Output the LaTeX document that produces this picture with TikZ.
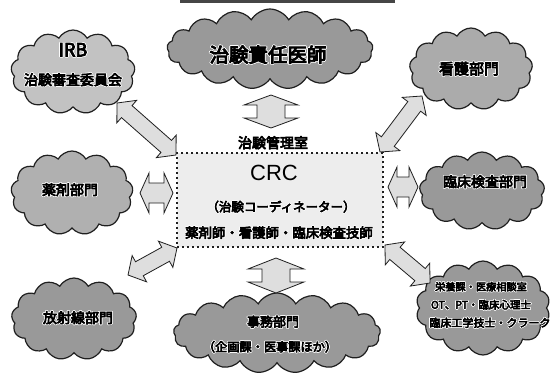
\documentclass[tikz,border=0pt]{standalone}
\usepackage{fontspec}
\setmainfont{Liberation Sans}
\newfontfamily\jpf{Noto Sans CJK JP}[AutoFakeBold=5]
\newcommand\jp{\jpf\bfseries}
\usepackage[copies]{contour}
\contourlength{0.6pt}
\usetikzlibrary{shapes.symbols,calc}
\definecolor{cloudlight}{gray}{0.76}
\definecolor{clouddark}{gray}{0.60}
\definecolor{arrowfill}{gray}{0.87}
\definecolor{boxfill}{gray}{0.93}
\definecolor{outl}{gray}{0.12}
\newcommand\myblockarrow[5]{%
\draw[barrow] (#1) -- ($(#1)!#3!(#2)!#4!90:(#2)$) -- ($(#1)!#3!(#2)!#5!90:(#2)$)
 -- ($(#2)!#3!(#1)!#5!-90:(#1)$) -- ($(#2)!#3!(#1)!#4!-90:(#1)$) -- (#2)
 -- ($(#2)!#3!(#1)!#4!90:(#1)$) -- ($(#2)!#3!(#1)!#5!90:(#1)$)
 -- ($(#1)!#3!(#2)!#5!-90:(#2)$) -- ($(#1)!#3!(#2)!#4!-90:(#2)$) -- cycle;}
\newcommand\ct[1]{\contour{white}{#1}}
\begin{document}
\begin{tikzpicture}[x=1pt,y=-1pt,
  cloudnode/.style={cloud, cloud puffs=13, cloud puff arc=120, cloud ignores aspect,
    draw=outl, line width=1.2pt, fill=clouddark, inner sep=0pt, align=center},
  widecloud/.style={cloudnode, cloud puffs=17},
  barrow/.style={draw=outl, line width=0.8pt, fill=arrowfill, line join=miter},
  crcbox/.style={draw=outl, line width=2.4pt, dash pattern=on 2.4pt off 2.6pt, fill=boxfill, inner sep=0pt},
  jtext/.style={font=\jp, text=black, inner sep=0pt, align=center}]
\useasboundingbox (0,0) rectangle (551,375);
\fill[gray!55!black] (180,0) rectangle (395,3);

% clouds
\node[cloudnode, fill=cloudlight, minimum width=124pt, minimum height=84pt] (irb) at (73,72) {};
\node[jtext, font=\jp\fontsize{18}{18}\selectfont] (irbt) at (73,50) {\ct{IRB}};
\node[jtext, font=\jp\fontsize{14}{14}\selectfont] (irbj) at (73,80) {\ct{治験審査委員会}};

\node[widecloud, minimum width=206pt, minimum height=80pt] (doc) at (270,49) {};
\node[jtext, font=\jp\fontsize{19.5}{20}\selectfont] (doct) at (268,55) {\ct{治験責任医師}};

\node[cloudnode, fill=gray!66, minimum width=123pt, minimum height=82pt] (nurse) at (471,69) {};
\node[jtext, font=\jp\fontsize{15}{15}\selectfont] (nurset) at (469,69) {\ct{看護部門}};

\node[cloudnode, fill=gray!62, minimum width=122pt, minimum height=84pt] (phar) at (72,193) {};
\node[jtext, font=\jp\fontsize{14}{14}\selectfont] (phart) at (70,190) {\ct{薬剤部門}};

\node[cloudnode, minimum width=125pt, minimum height=78pt] (lab) at (482,191) {};
\node[jtext, font=\jp\fontsize{14}{14}\selectfont] (labt) at (485,182) {\ct{臨床検査部門}};

\node[cloudnode, minimum width=125pt, minimum height=82pt] (rad) at (74,319) {};
\node[jtext, font=\jp\fontsize{14}{14}\selectfont] (radt) at (78,318) {\ct{放射線部門}};

\node[widecloud, minimum width=207pt, minimum height=80pt] (adm) at (277,333) {};
\node[jtext, font=\jp\fontsize{13}{13}\selectfont] (admt) at (273,322) {\ct{事務部門}};
\node[jtext, font=\jp\fontsize{12.2}{13}\selectfont] (admt2) at (270,347) {\ct{（企画課・医事課ほか）}};

\node[cloudnode, cloud puffs=14, minimum width=134pt, minimum height=94pt] (oth) at (483,308) {};
\node[jtext, font=\jp\fontsize{10.2}{10}\selectfont] (otht1) at (481,287) {\ct{栄養課・医療相談室}};
\node[jtext, font=\jp\fontsize{10.5}{10}\selectfont] (otht2) at (481,305) {\ct{OT、PT・臨床心理士}};
\node[jtext, font=\jp\fontsize{11}{11}\selectfont] (otht3) at (490,323) {\ct{臨床工学技士・クラーク}};

% CRC box
\node[crcbox, minimum width=206pt, minimum height=94pt] (crc) at (280,200) {};
\node[inner sep=0pt, font=\fontsize{22}{22}\selectfont] (crct) at (274,173) {CRC};
\node[jtext, font=\jp\fontsize{12.5}{13}\selectfont] (crct2) at (281,207) {\ct{（治験コーディネーター）}};
\node[jtext, font=\jp\fontsize{13.4}{14}\selectfont] (crct3) at (279,233) {\ct{薬剤師・看護師・臨床検査技師}};
\node[jtext, font=\jp\fontsize{14}{14}\selectfont] (room) at (273,143) {\ct{治験管理室}};

% arrow end points
\coordinate (tvA) at (271,95);  \coordinate (tvB) at (271,128);
\coordinate (bvA) at (276,258); \coordinate (bvB) at (276,293);
\coordinate (lhA) at (140,193); \coordinate (lhB) at (173,193);
\coordinate (rhA) at (388,187); \coordinate (rhB) at (418,187);
\coordinate (ulA) at (117,103); \coordinate (ulB) at (176,155);
\coordinate (urA) at (380,152); \coordinate (urB) at (422,96);
\coordinate (llA) at (177,248); \coordinate (llB) at (128,275);
\coordinate (lrA) at (385,245); \coordinate (lrB) at (430,283);

\myblockarrow{tvA}{tvB}{10pt}{27pt}{14pt}
\myblockarrow{bvA}{bvB}{11pt}{28pt}{14pt}
\myblockarrow{lhA}{lhB}{9pt}{20pt}{10pt}
\myblockarrow{rhA}{rhB}{9pt}{20pt}{10pt}
\myblockarrow{ulA}{ulB}{13pt}{15pt}{8pt}
\myblockarrow{urA}{urB}{13pt}{15pt}{8pt}
\myblockarrow{llA}{llB}{13pt}{15pt}{8pt}
\myblockarrow{lrA}{lrB}{13pt}{15pt}{8pt}
\end{tikzpicture}
\end{document}
